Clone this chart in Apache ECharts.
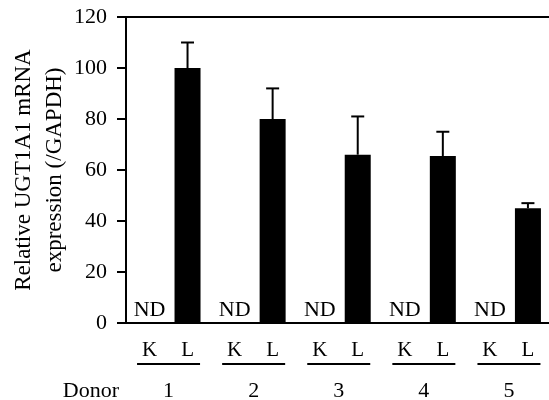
<!DOCTYPE html>
<html>
<head>
<meta charset="utf-8">
<style>
  html, body { margin: 0; padding: 0; background: #fff; }
  #chart { width: 549px; height: 400px; }
</style>
<script src="https://cdn.jsdelivr.net/npm/echarts@6/dist/echarts.min.js"></script>
</head>
<body>
<div id="chart"></div>
<script>
// ---- data ----
const donors = ['1', '2', '3', '4', '5'];
const tissueLabels = ['K', 'L'];
const kidneyValues = [0, 0, 0, 0, 0];          // not detected
const kidneyLabel = 'ND';
const liverValues = [100, 80, 66, 65.5, 45];
const liverErrors = [10, 12, 15, 9.5, 2];
const yMin = 0, yMax = 120, yStep = 20;
const yName = 'Relative UGT1A1 mRNA\nexpression (/GAPDH)';
const xName = 'Donor';

// ---- style constants ----
const FONT = '"Liberation Serif", "Times New Roman", serif';
const BAR_W = 26;
const BAR_GAP = 0.46;
const L_OFFSET = BAR_W * (1 + BAR_GAP) / 2;

const chart = echarts.init(document.getElementById('chart'), null, { renderer: 'canvas' });

const errData = liverValues.map((v, i) => [i, v, liverErrors[i]]);

const option = {
  animation: false,
  backgroundColor: '#fff',
  textStyle: { fontFamily: FONT, color: '#000' },
  grid: { left: 126, top: 17, width: 425.5, bottom: 77, containLabel: false, outerBoundsMode: 'none' },
  xAxis: [
    {
      type: 'category',
      data: donors,
      position: 'bottom',
      axisLine: { show: true, lineStyle: { color: '#000', width: 2 } },
      axisTick: { show: false },
      name: xName,
      nameLocation: 'start',
      nameGap: 7,
      nameMoveOverlap: false,
      nameTextStyle: { fontFamily: FONT, fontSize: 22, color: '#000', verticalAlign: 'top', padding: [57, 0, 0, 0] },
      axisLabel: {
        interval: 0,
        hideOverlap: false,
        margin: 16,
        color: '#000',
        formatter: function (v) {
          return '{k|' + tissueLabels[0] + '}{g|}{l|' + tissueLabels[1] + '}\n{u|}\n{d|' + v + '}';
        },
        rich: {
          k: { width: 20, align: 'center', fontSize: 21, lineHeight: 23, fontFamily: FONT, color: '#000' },
          g: { width: 18, fontSize: 21, lineHeight: 23 },
          l: { width: 20, align: 'center', fontSize: 21, lineHeight: 23, fontFamily: FONT, color: '#000' },
          u: { width: 63, height: 2, lineHeight: 4, backgroundColor: '#000' },
          d: { fontSize: 22, lineHeight: 50, fontFamily: FONT, color: '#000' }
        }
      }
    },
    {
      type: 'category',
      data: donors,
      position: 'top',
      axisLine: { show: true, lineStyle: { color: '#000', width: 2 } },
      axisTick: { show: false },
      axisLabel: { show: false }
    }
  ],
  yAxis: {
    type: 'value',
    min: yMin,
    max: yMax,
    interval: yStep,
    name: yName,
    nameLocation: 'middle',
    nameRotate: 90,
    nameGap: 56,
    nameMoveOverlap: false,
    nameTextStyle: { fontFamily: FONT, fontSize: 23, lineHeight: 31, color: '#000', align: 'center' },
    axisLine: { show: true, lineStyle: { color: '#000', width: 2 } },
    axisTick: { show: true, length: 9, lineStyle: { color: '#000', width: 2 } },
    splitLine: { show: false },
    axisLabel: { fontFamily: FONT, fontSize: 22, color: '#000', margin: 19, padding: [13, 0, 0, 0], hideOverlap: false }
  },
  series: [
    {
      name: 'K',
      type: 'bar',
      data: kidneyValues,
      barWidth: BAR_W,
      barGap: (BAR_GAP * 100) + '%',
      itemStyle: { color: '#000' },
      label: {
        show: true,
        position: 'top',
        distance: 2,
        formatter: kidneyLabel,
        fontFamily: FONT,
        fontSize: 22,
        color: '#000'
      }
    },
    {
      name: 'L',
      type: 'bar',
      data: liverValues,
      barWidth: BAR_W,
      barGap: (BAR_GAP * 100) + '%',
      itemStyle: { color: '#000' }
    },
    {
      name: 'err',
      type: 'custom',
      data: errData,
      encode: { x: 0, y: 1 },
      z: 10,
      renderItem: function (params, api) {
        const i = api.value(0);
        const m = api.value(1);
        const e = api.value(2);
        const base = api.coord([i, m]);
        const top = api.coord([i, m + e]);
        const x = base[0] + L_OFFSET;
        const style = { stroke: '#000', lineWidth: 2 };
        return {
          type: 'group',
          children: [
            { type: 'line', shape: { x1: x, y1: base[1], x2: x, y2: top[1] }, style: style },
            { type: 'line', shape: { x1: x - 6.5, y1: top[1], x2: x + 6.5, y2: top[1] }, style: style }
          ]
        };
      }
    }
  ]
};

chart.setOption(option);
</script>
</body>
</html>
